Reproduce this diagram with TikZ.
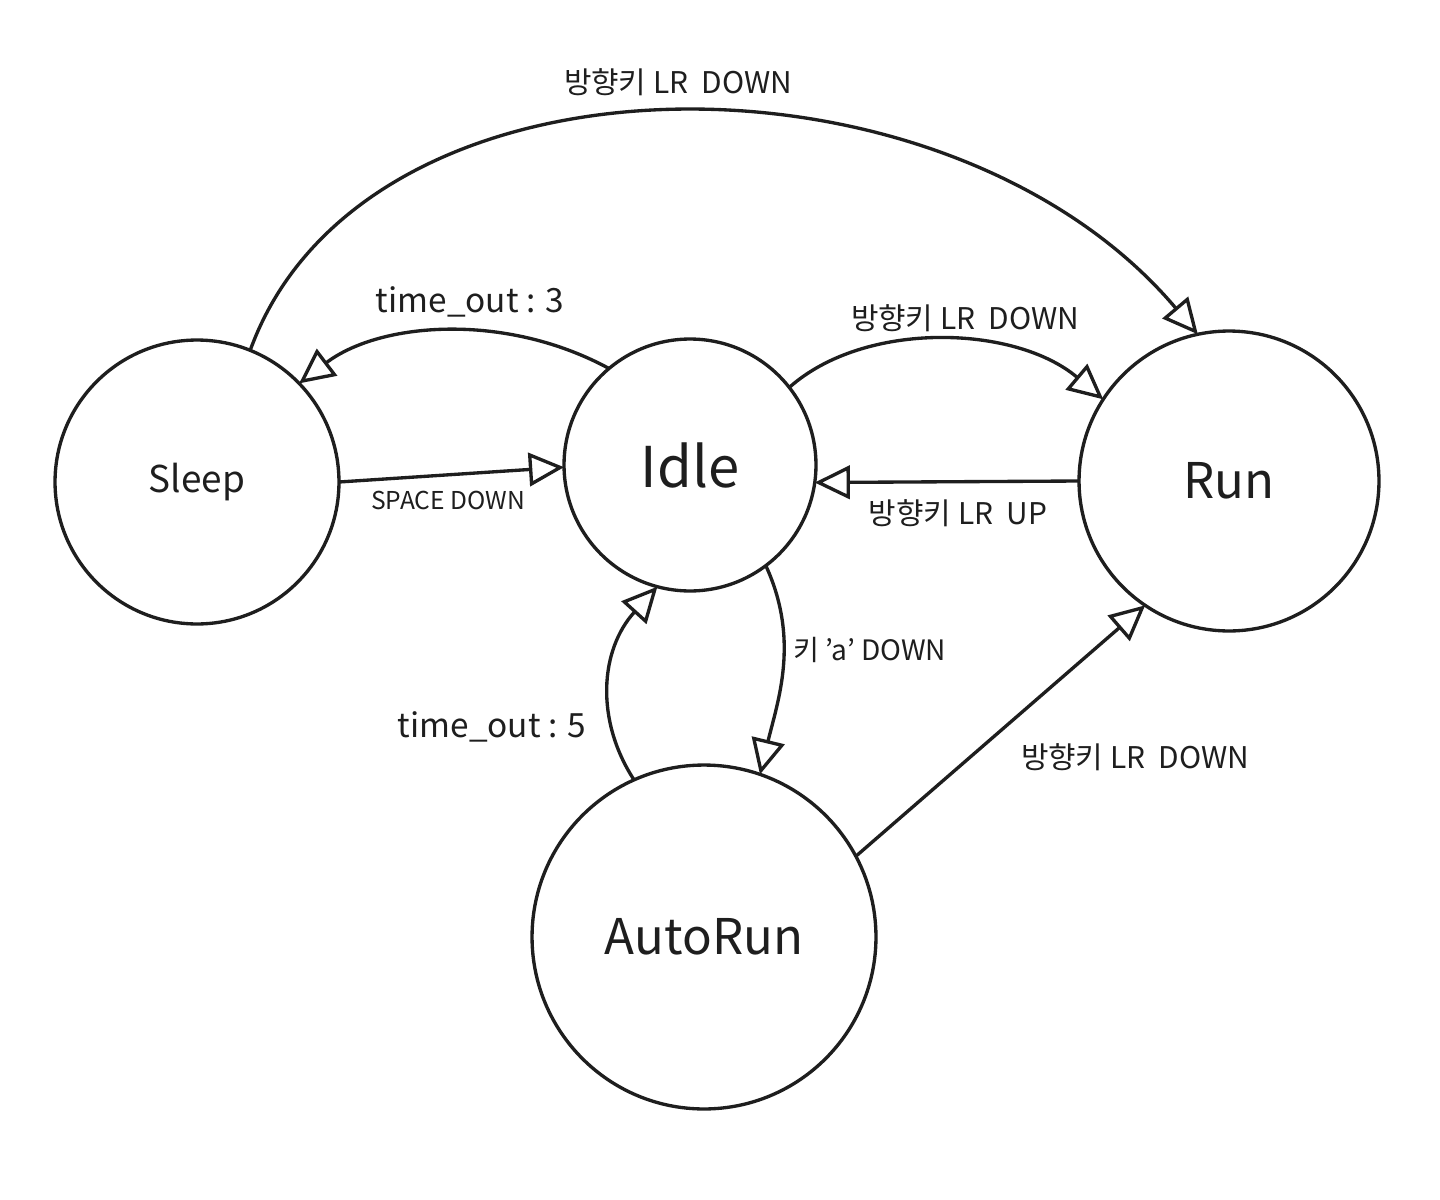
\documentclass[tikz,border=0pt]{standalone}
\usepackage{fontspec}
\setmainfont{Noto Sans CJK KR}
\usetikzlibrary{arrows.meta,calc}
\definecolor{ink}{HTML}{1E1E1E}
\begin{document}
\begin{tikzpicture}[x=0.02cm,y=-0.02cm,
  state/.style={circle,draw=ink,line width=1.9pt,inner sep=0pt,outer sep=0pt,text=ink},
  trans/.style={draw=ink,line width=1.9pt,-{Triangle[open,length=20pt,width=19pt,line join=miter]}},
  elabel/.style={text=ink,inner sep=1pt,font=\fontsize{17}{20}\selectfont},
  slabel/.style={font=\fontsize{28}{32}\selectfont}]
\useasboundingbox[fill=white] (0,0) rectangle (1440,1200);

% states
\node[state,minimum size=5.68cm,slabel,font=\fontsize{21}{24}\selectfont] (sleep) at (197,482) {Sleep};
\node[state,minimum size=5.04cm,slabel,font=\fontsize{32}{36}\selectfont] (idle) at (690,465) {Idle};
\node[state,minimum size=6.0cm,slabel] (run) at (1229,481) {Run};
\node[state,minimum size=6.88cm,slabel] (auto) at (704,937) {AutoRun};

% transitions
\draw[trans] (sleep.68) .. controls (364,36) and (946,36) .. (run.102.5);
\draw[trans] (idle.130) .. controls (505,312) and (380,322) .. (sleep.44);
\draw[trans] (sleep.0) -- (idle.181);
\draw[trans] (idle.38) .. controls (865,320) and (1015,325) .. (run.147);
\draw[trans] (run.180) -- (idle.-8);
\draw[trans] (idle.-53) .. controls (800,640) and (778,700) .. (auto.71);
\draw[trans] (auto.114) .. controls (595,720) and (600,650) .. (idle.-105);
\draw[trans] (auto.28) -- (run.-124);

% labels
\node[elabel] (l1) at (678,82) {방향키 LR\ \ DOWN};
\node[elabel,font=\fontsize{19}{22}\selectfont] (l2) at (470,302) {time\_out : 3};
\node[elabel] (l3) at (965,318) {방향키 LR\ \ DOWN};
\node[elabel,font=\fontsize{14}{17}\selectfont] (l4) at (448,500) {SPACE DOWN};
\node[elabel] (l5) at (958,513) {방향키 LR\ \ UP};
\node[elabel,font=\fontsize{16}{19}\selectfont] (l6) at (870,650) {키 'a' DOWN};
\node[elabel,font=\fontsize{19}{22}\selectfont] (l7) at (492,727) {time\_out : 5};
\node[elabel] (l8) at (1135,757) {방향키 LR\ \ DOWN};
\end{tikzpicture}
\end{document}
